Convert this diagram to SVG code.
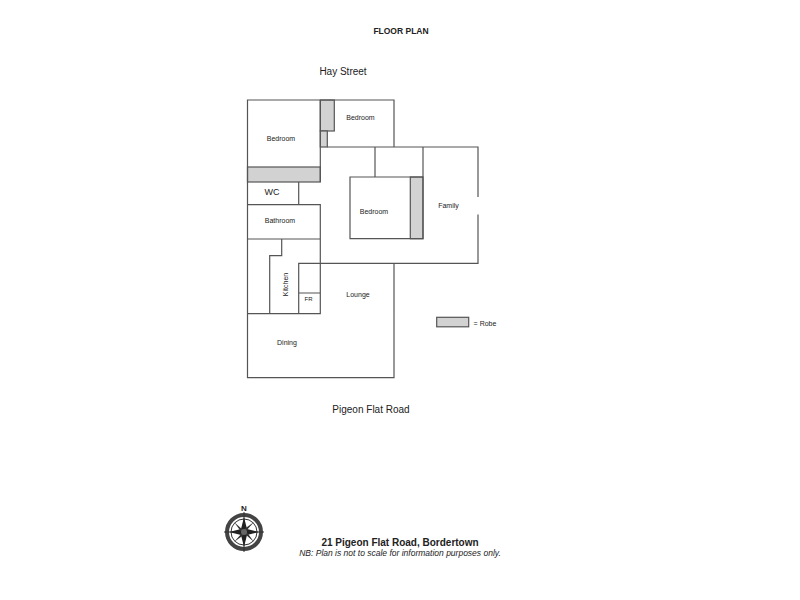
<svg xmlns="http://www.w3.org/2000/svg" width="800" height="600" viewBox="0 0 800 600">
<style>
text{font-family:"Liberation Sans",Arial,sans-serif;fill:#222;text-anchor:middle}
.w{fill:none;stroke:#555;stroke-width:1.2}
.r{fill:#d2d2d2;stroke:#555;stroke-width:1.2}
.s{font-size:7px}
.m{font-size:10px}
</style>
<rect width="800" height="600" fill="#fff"/>
<text x="401" y="34" font-size="8.5" font-weight="bold">FLOOR PLAN</text>
<text x="343" y="75" class="m">Hay Street</text>
<text x="371" y="413" class="m">Pigeon Flat Road</text>
<g id="robes">
<rect class="r" x="320.3" y="100" width="14" height="31"/>
<rect class="r" x="320.3" y="131" width="7" height="16"/>
<rect class="r" x="247.5" y="167" width="72.8" height="15"/>
<rect class="r" x="410.3" y="177" width="12.7" height="61.7"/>
</g>
<g id="walls">
<path class="w" d="M320.3 100H247.5V377.7H394V263.3M320.3 100H394V147M320.3 182V100M327.300 147H478V197M478 214.500V263.300H298.700V313.700M375 147V177M350 177H423V238.700H350ZM423 147V177M298.700 182V204.700M247.500 204.700H320.300V313.700H247.500M247.500 239H320.300M281.700 239V255.700H269.700V313.700M298.700 293H320.300"/>
</g>
<g id="room-bedroom-1"><text x="281" y="141" class="s">Bedroom</text></g>
<g id="room-bedroom-2"><text x="360.500" y="120" class="s">Bedroom</text></g>
<g id="room-bedroom-3"><text x="374" y="214" class="s">Bedroom</text></g>
<g id="room-wc"><text x="272" y="195" font-size="9">WC</text></g>
<g id="room-bathroom"><text x="280" y="223" class="s">Bathroom</text></g>
<g id="room-kitchen"><text transform="translate(288 284.500) rotate(-90)" class="s">Kitchen</text></g>
<g id="room-fr"><text x="308.500" y="301" font-size="6">FR</text></g>
<g id="room-lounge"><text x="358" y="296.500" class="s">Lounge</text></g>
<g id="room-dining"><text x="287" y="345" class="s">Dining</text></g>
<g id="room-family"><text x="448.500" y="208" class="s">Family</text></g>
<g id="legend">
<rect class="r" x="436.700" y="317.300" width="32" height="9.500"/>
<text x="485" y="325.500" class="s">= Robe</text>
</g>
<g id="compass">
<text x="244" y="511" font-size="8" font-weight="bold">N</text>
<circle cx="244" cy="532" r="17" fill="none" stroke="#444" stroke-width="4"/>
<circle cx="244" cy="532" r="13" fill="#fff" stroke="#333" stroke-width="1"/>
<path d="M224 532H264M244 512V552" stroke="#333" stroke-width="1" fill="none"/>
<path d="M244 517L247 529L259 532L247 535L244 547L241 535L229 532L241 529Z" fill="#222"/>
<path d="M234 522L243 530L254 522L246 531L254 542L245 534L234 542L242 533Z" fill="#333"/>
<circle cx="244" cy="532" r="3" fill="#666"/>
</g>
<text x="400" y="545.500" font-size="10" font-weight="bold">21 Pigeon Flat Road, Bordertown</text>
<text x="400" y="555.500" font-size="8.500" font-style="italic" fill="#333">NB: Plan is not to scale for information purposes only.</text>
</svg>
